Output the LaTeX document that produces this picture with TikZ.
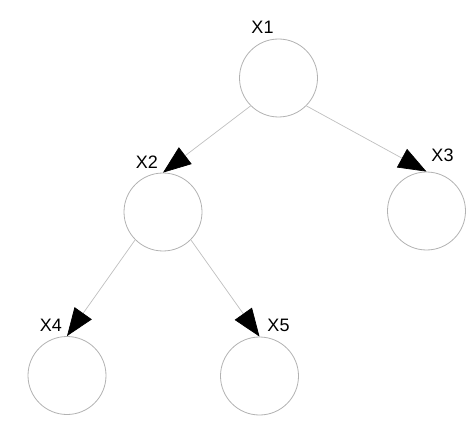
\documentclass[tikz,border=0pt]{standalone}
\usepackage{fontspec}
\setmainfont{Liberation Sans}
\usetikzlibrary{arrows.meta, positioning, calc}

\begin{document}
\begin{tikzpicture}[
    x=1pt, y=-1pt,
    var/.style={draw=black!30, circle, minimum size=78pt, inner sep=0pt, line width=0.8pt},
    edge/.style={-{Triangle[length=28pt, width=21pt, color=black]}, draw=black!25, line width=0.7pt},
    lbl/.style={font=\fontsize{18}{20}\selectfont, inner sep=0pt}
]
    \useasboundingbox (0,0) rectangle (474,425);

    % Variables
    \node[var] (x1) at (278.5,78) {};
    \node[var] (x2) at (163,212) {};
    \node[var] (x3) at (426.5,211) {};
    \node[var] (x4) at (67,375.5) {};
    \node[var] (x5) at (259.5,376) {};

    % Labels
    \node[lbl] (x1_lbl) at ($(x1)+(-16,-51)$) {X1};
    \node[lbl] (x2_lbl) at ($(x2)+(-16,-50)$) {X2};
    \node[lbl] (x3_lbl) at ($(x3)+(16,-56)$) {X3};
    \node[lbl] (x4_lbl) at ($(x4)+(-16,-50)$) {X4};
    \node[lbl] (x5_lbl) at ($(x5)+(19,-51)$) {X5};

    % Edges
    \draw[edge] (x1.south west) -- (x2.north);
    \draw[edge] (x1.south east) -- (x3.north);
    \draw[edge] (x2.south west) -- (x4.north);
    \draw[edge] (x2.south east) -- (x5.north);

\end{tikzpicture}
\end{document}
